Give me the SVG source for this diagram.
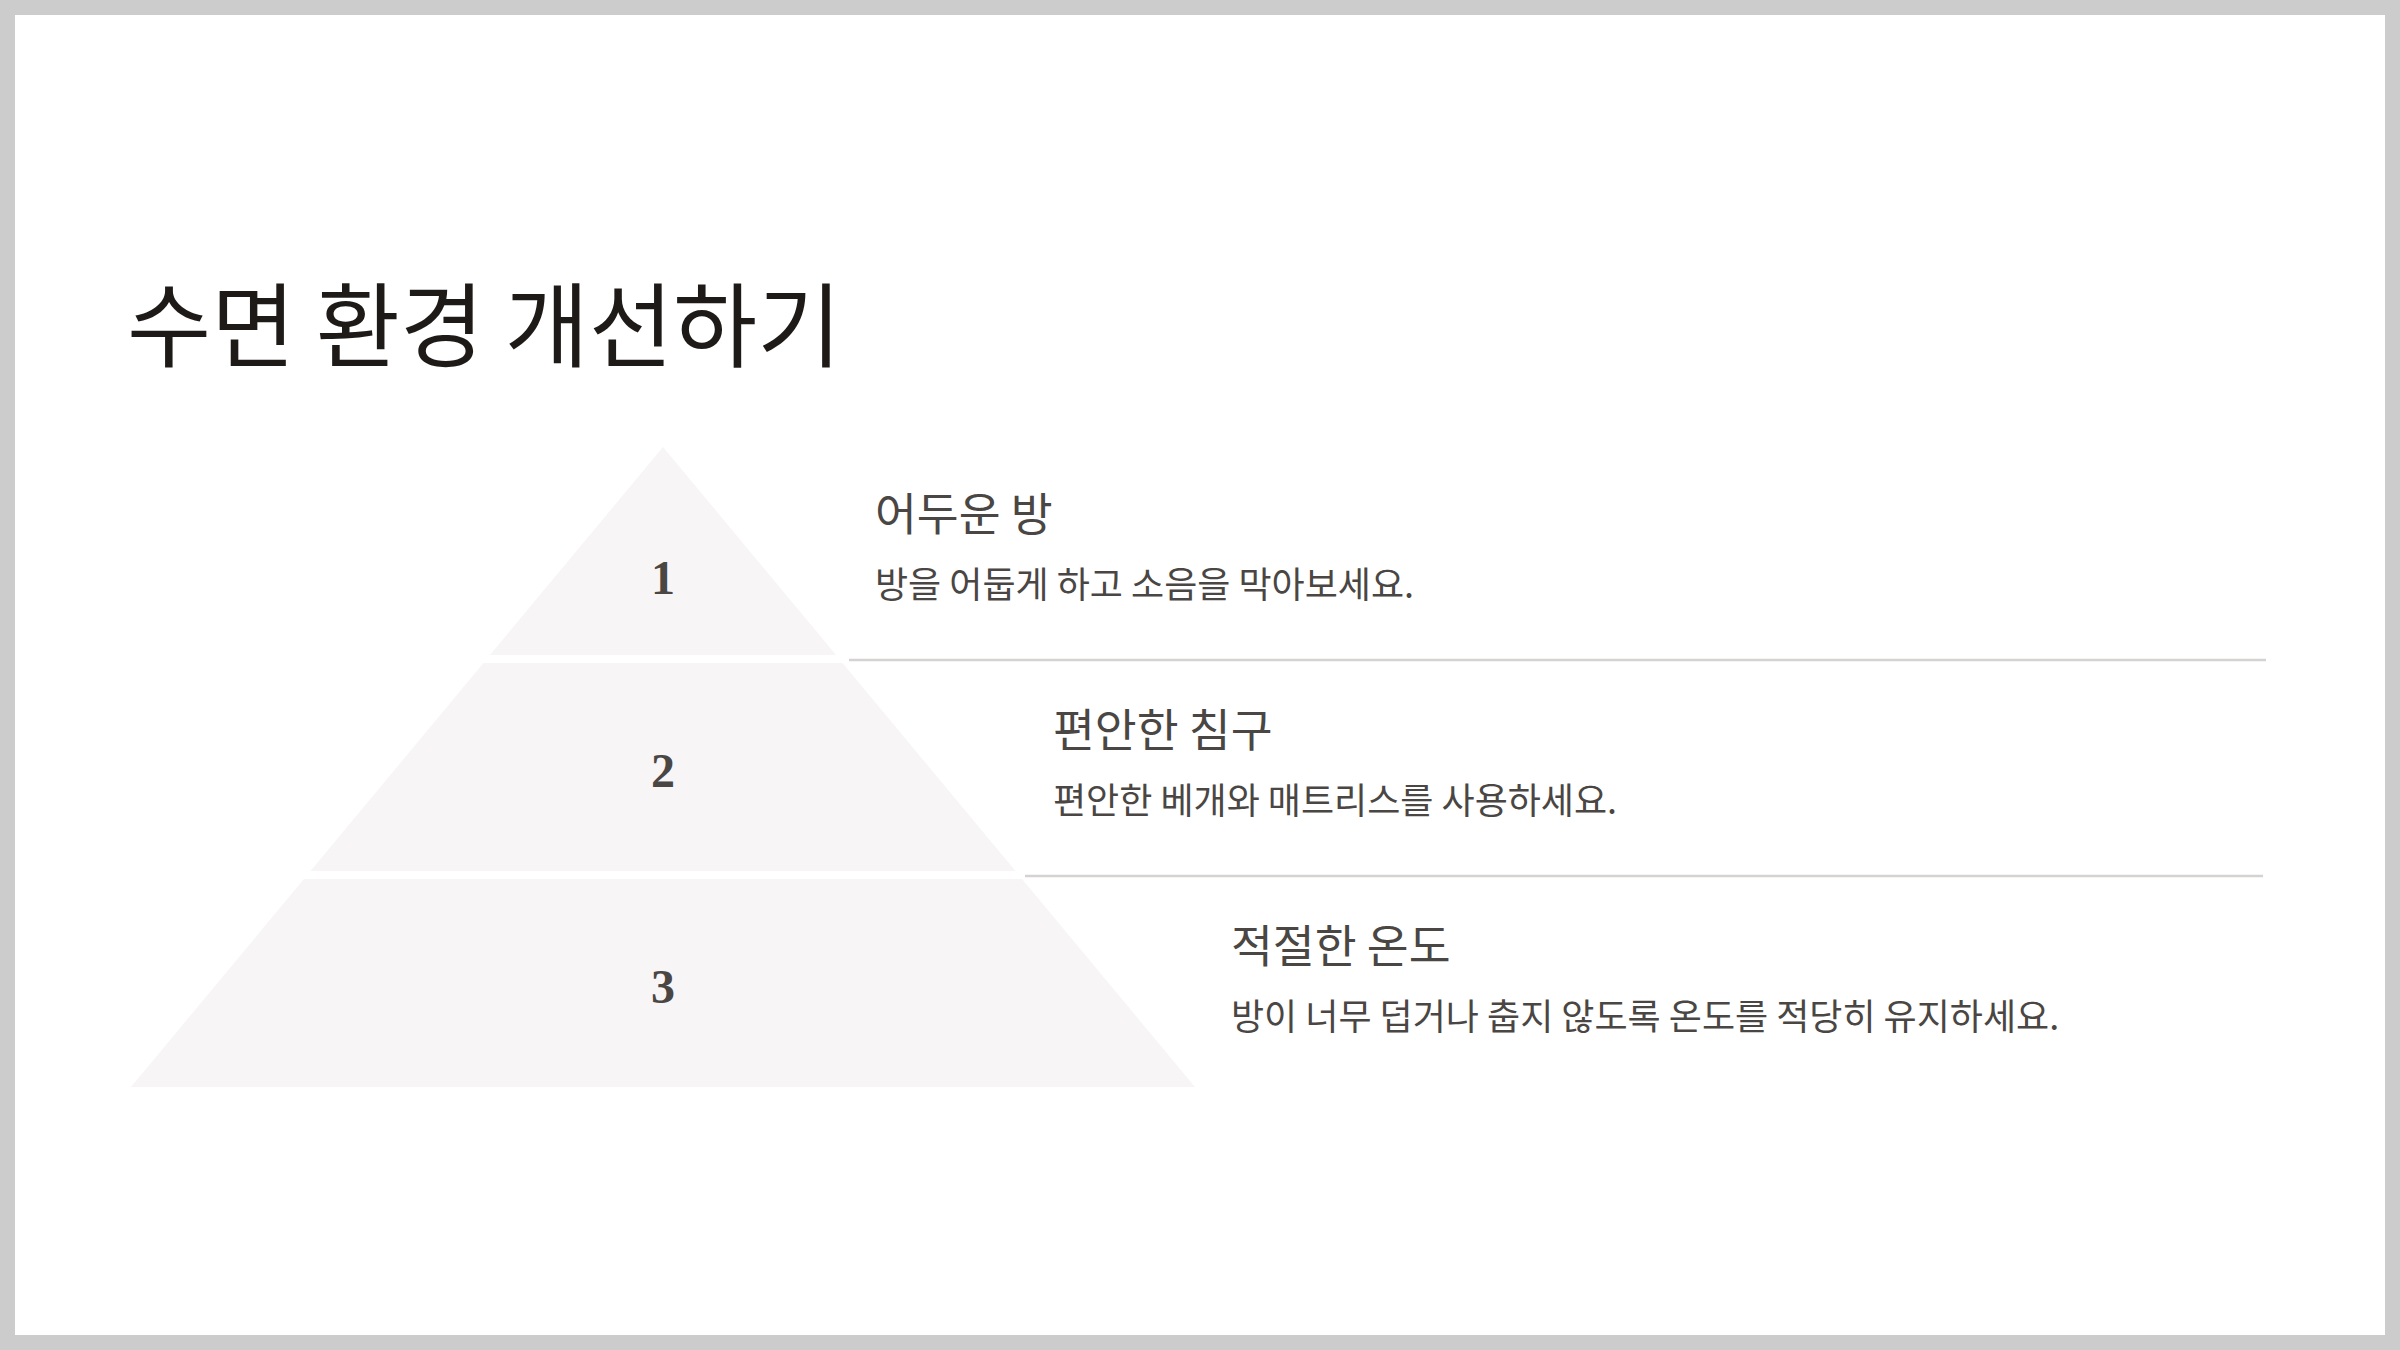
<svg xmlns="http://www.w3.org/2000/svg" width="2400" height="1350" viewBox="0 0 2400 1350">
  <style>
    .tier { fill: #F7F5F5; }
    .num { font-family: "Liberation Serif", "DejaVu Serif", serif; font-weight: bold; font-size: 48px; fill: #4A4643; text-anchor: middle; }
    .head { font-family: "Noto Sans CJK KR", "Noto Sans", sans-serif; font-size: 45.5px; fill: #4A4643; }
    .desc { font-family: "Noto Sans CJK KR", "Noto Sans", sans-serif; font-size: 36px; fill: #4A4643; }
    .title { font-family: "Noto Sans CJK KR", "Noto Sans", sans-serif; font-size: 91.5px; fill: #1E1A18; }
    .divider { stroke: #D5D2D2; stroke-width: 2.5; fill: none; }
  </style>
  <rect x="0" y="0" width="2400" height="1350" fill="#CCCCCC"/>
  <rect x="15" y="15" width="2370" height="1320" fill="#FFFFFF"/>

  <text id="title" class="title" x="127" y="360">수면 환경 개선하기</text>

  <g id="connectors">
    <line class="divider" x1="849" y1="660" x2="2266" y2="660"/>
    <line class="divider" x1="1025" y1="876" x2="2263" y2="876"/>
  </g>

  <g id="tier1">
    <polygon class="tier" points="663,447 836,655 490,655"/>
    <text class="num" x="663" y="594">1</text>
    <text class="head" x="875" y="531">어두운 방</text>
    <text class="desc" x="875" y="598">방을 어둡게 하고 소음을 막아보세요.</text>
  </g>

  <g id="tier2">
    <polygon class="tier" points="483.5,663 842.5,663 1015.5,871 310.5,871"/>
    <text class="num" x="663" y="787">2</text>
    <text class="head" x="1053" y="747">편안한 침구</text>
    <text class="desc" x="1053" y="814">편안한 베개와 매트리스를 사용하세요.</text>
  </g>

  <g id="tier3">
    <polygon class="tier" points="304,879 1022,879 1195,1087 131,1087"/>
    <text class="num" x="663" y="1003">3</text>
    <text class="head" x="1231" y="963">적절한 온도</text>
    <text class="desc" x="1231" y="1030">방이 너무 덥거나 춥지 않도록 온도를 적당히 유지하세요.</text>
  </g>
</svg>
